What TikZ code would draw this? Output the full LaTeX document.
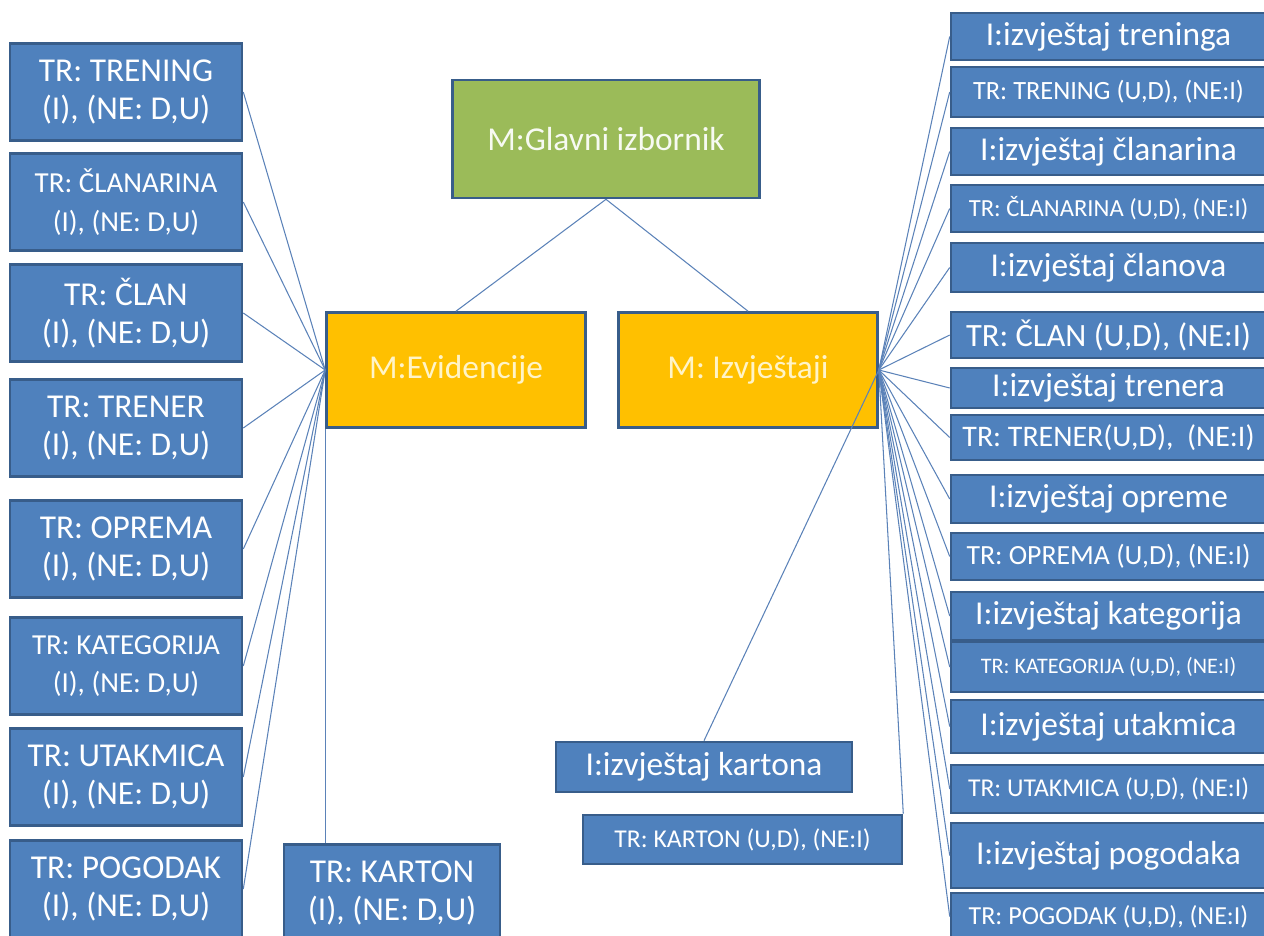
\documentclass[tikz,border=0pt]{standalone}
\usepackage{fontspec}
\setmainfont{Carlito}
\usepackage{xcolor}
\usepackage{tikz}

\definecolor{boxblue}{HTML}{4F81BD}
\definecolor{boxline}{HTML}{385D8A}
\definecolor{menuorange}{HTML}{FFC000}
\definecolor{menugreen}{HTML}{9BBB59}
\definecolor{menutext}{HTML}{FFF4C8}
\definecolor{linkblue}{HTML}{5B82B8}

\tikzset{
  base/.style={draw=boxline, line width=1.5pt, text=white, align=center, inner sep=0pt},
  trbox/.style={base, fill=boxblue},
  menubox/.style={base, fill=menuorange, text=menutext, minimum width=5.18cm, minimum height=2.3cm,
    font=\fontsize{19}{22}\selectfont},
  link/.style={draw=linkblue, line width=0.6pt},
}

\begin{document}
\begin{tikzpicture}[x=0.02cm, y=-0.02cm]
    \useasboundingbox (0,0) rectangle (1264,936);
    \clip (0,0) rectangle (1264,936);

    % glavni izbornik i podizbornici
    \node[base, fill=menugreen, text=white!92!menugreen, minimum width=6.14cm, minimum height=2.36cm,
      font=\fontsize{19}{22}\selectfont] (glavni) at (606,139) {M:Glavni izbornik};
    \node[menubox] (evid) at (456,370) {M:Evidencije};
    \node[menubox] (izv) at (748,370) {M: Izvještaji};

    % evidencije: lijevi stupac
    \foreach \nm/\txt/\y/\fsz in {trening/{TR: TRENING}/92/19,
        clanarina/{TR: ČLANARINA}/202/16.5,
        clan/{TR: ČLAN}/313/19,
        trener/{TR: TRENER}/428/19,
        oprema/{TR: OPREMA}/549/19,
        kategorija/{TR: KATEGORIJA}/666/16.5,
        utakmica/{TR: UTAKMICA}/777/19,
        pogodak/{TR: POGODAK}/889/19} {
      \node[trbox, minimum width=4.64cm, minimum height=1.94cm,
        font=\fontsize{\fsz}{22}\selectfont] (\nm) at (126,\y) {\txt\\(I), (NE: D,U)};
      \draw[link] (\nm.east) -- (evid.west);
    }
    \node[trbox, minimum width=4.32cm, minimum height=1.94cm,
      font=\fontsize{19}{22}\selectfont] (kartonL) at (392,893) {TR: KARTON\\(I), (NE: D,U)};
    \draw[link] (evid.south west) -- (evid.south west |- kartonL.north);

    % izvjestaji: desni stupac
    \foreach \nm/\txt/\y/\h/\fsz in {itrening/{I:izvještaj treninga}/36.5/47/19,
        ttrening/{TR: TRENING (U,D), (NE:I)}/92/50/15,
        iclanarina/{I:izvještaj članarina}/151.5/47/19,
        tclanarina/{TR: ČLANARINA (U,D), (NE:I)}/208.5/47/14,
        iclanova/{I:izvještaj članova}/267.5/49/19,
        tclan/{TR: ČLAN (U,D), (NE:I)}/335/46/18.5,
        itrenera/{I:izvještaj trenera}/388/40/19,
        ttrener/{TR: TRENER(U,D), ~(NE:I)}/437.5/45/17,
        iopreme/{I:izvještaj opreme}/499/48/19,
        toprema/{TR: OPREMA (U,D), (NE:I)}/556.5/47/15.8,
        ikategorija/{I:izvještaj kategorija}/616/48/19,
        tkategorija/{TR: KATEGORIJA (U,D), (NE:I)}/667/50/12.6,
        iutakmica/{I:izvještaj utakmica}/726.5/53/19,
        tutakmica/{TR: UTAKMICA (U,D), (NE:I)}/789/48/14.6,
        ipogodaka/{I:izvještaj pogodaka}/855.5/65/19,
        tpogodak/{TR: POGODAK (U,D), (NE:I)}/916.5/47/14.8} {
      \node[trbox, minimum width=6.3cm, minimum height=\h*0.02cm,
        font=\fontsize{\fsz}{22}\selectfont] (\nm) at (1108.5,\y) {\txt};
      \draw[link] (izv.east) -- (\nm.west);
    }
    \node[trbox, minimum width=5.92cm, minimum height=1cm,
      font=\fontsize{19}{22}\selectfont] (ikartona) at (704,767) {I:izvještaj kartona};
    \node[trbox, minimum width=6.38cm, minimum height=0.98cm,
      font=\fontsize{14.6}{22}\selectfont] (tkarton) at (742.5,839.5) {TR: KARTON (U,D), (NE:I)};
    \draw[link] (izv.east) -- (ikartona.north);
    \draw[link] (izv.east) -- (tkarton.north east);

    \draw[link] (glavni.south) -- (evid.north);
    \draw[link] (glavni.south) -- (izv.north);
  \end{tikzpicture}
\end{document}
